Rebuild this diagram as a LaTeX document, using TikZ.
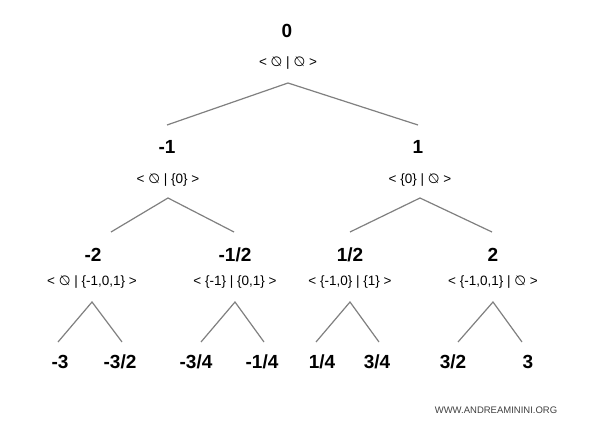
\documentclass[tikz,border=0pt]{standalone}
\usepackage{graphicx}
\usepackage{fontspec}
\setmainfont{Liberation Sans}
\newfontfamily\symfont{DejaVu Sans}
\newcommand{\es}{\reflectbox{\symfont ∅}}
\begin{document}
\begin{tikzpicture}[x=1pt,y=-1pt,
  num/.style={font=\fontsize{19}{21}\selectfont\bfseries, inner sep=0pt, anchor=center},
  sub/.style={font=\fontsize{13.5}{15}\selectfont, inner sep=0pt, anchor=center},
  edge/.style={draw=black!50, line width=1.2pt}]
\useasboundingbox (0,0) rectangle (592,433);
\fill[white] (0,0) rectangle (592,433);
% level 0
\node[num] (n0) at (287,31) {0};
\node[sub] (s0) at (288,63) {< \es\ | \es\ >};
\coordinate (a0) at (288,83);
\coordinate (e0l) at (167,125);
\coordinate (e0r) at (418,125);
\draw[edge] (e0l) -- (a0) -- (e0r);
% level 1
\node[num] (n1l) at (167,147) {-1};
\node[sub] (s1l) at (168,180) {< \es\ | \{0\} >};
\node[num] (n1r) at (418,147) {1};
\node[sub] (s1r) at (420,180) {< \{0\} | \es\ >};
\coordinate (a1l) at (168,198);
\coordinate (a1r) at (420,198);
\coordinate (e1a) at (111,232);
\coordinate (e1b) at (234,232);
\coordinate (e1c) at (350,232);
\coordinate (e1d) at (492,232);
\draw[edge] (e1a) -- (a1l) -- (e1b);
\draw[edge] (e1c) -- (a1r) -- (e1d);
% level 2
\node[num] (n2a) at (93,255) {-2};
\node[sub] (s2a) at (92,282) {< \es\ | \{-1,0,1\} >};
\node[num] (n2b) at (235,255) {-1/2};
\node[sub] (s2b) at (235,282) {< \{-1\} | \{0,1\} >};
\node[num] (n2c) at (350,255) {1/2};
\node[sub] (s2c) at (350,282) {< \{-1,0\} | \{1\} >};
\node[num] (n2d) at (493,255) {2};
\node[sub] (s2d) at (493,282) {< \{-1,0,1\} | \es\ >};
\coordinate (a2a) at (92,302);
\coordinate (a2b) at (235,302);
\coordinate (a2c) at (350,302);
\coordinate (a2d) at (493,302);
\coordinate (e2a) at (58,342);
\coordinate (e2b) at (122,342);
\coordinate (e2c) at (201,342);
\coordinate (e2d) at (264,342);
\coordinate (e2e) at (316,342);
\coordinate (e2f) at (379,342);
\coordinate (e2g) at (458,342);
\coordinate (e2h) at (522,342);
\draw[edge] (e2a) -- (a2a) -- (e2b);
\draw[edge] (e2c) -- (a2b) -- (e2d);
\draw[edge] (e2e) -- (a2c) -- (e2f);
\draw[edge] (e2g) -- (a2d) -- (e2h);
% leaves
\node[num] (l1) at (60,362) {-3};
\node[num] (l2) at (120,362) {-3/2};
\node[num] (l3) at (196,362) {-3/4};
\node[num] (l4) at (262,362) {-1/4};
\node[num] (l5) at (322,362) {1/4};
\node[num] (l6) at (377,362) {3/4};
\node[num] (l7) at (453,362) {3/2};
\node[num] (l8) at (528,362) {3};
% watermark
\node[font=\fontsize{9.5}{11}\selectfont, text=black!75, inner sep=0pt] (wm) at (496,410) {WWW.ANDREAMININI.ORG};
\end{tikzpicture}
\end{document}
